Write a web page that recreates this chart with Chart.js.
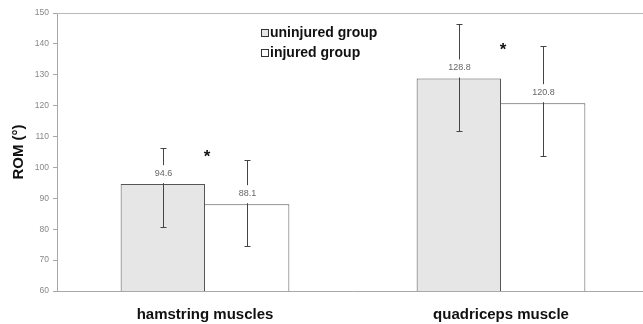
<!DOCTYPE html>
<html>
<head>
<meta charset="utf-8">
<script src="https://cdn.jsdelivr.net/npm/chart.js"></script>
<style>
  html, body { margin: 0; padding: 0; background: #fff; overflow: hidden; }
</style>
</head>
<body>
<canvas id="chart" width="649" height="324"></canvas>
<script>
// data
var categories = ['hamstring muscles', 'quadriceps muscle'];
var seriesNames = ['uninjured group', 'injured group'];
var uninjured = [94.6, 128.8];
var injured = [88.1, 120.8];
var uninjuredLow = [80.7, 111.8];
var uninjuredHigh = [106.3, 146.3];
var injuredLow = [74.5, 103.7];
var injuredHigh = [102.4, 139.3];
var starLevel = [104.7, 139.3];   // where the significance star sits
var yMin = 60, yMax = 150, yStep = 10;

var FONT = "'Liberation Sans', Arial, sans-serif";

// error bars, value labels, stars, legend and top frame line
const extras = {
  id: 'extras',
  afterDatasetsDraw(chart) {
    const ctx = chart.ctx;
    const ys = chart.scales.y;
    const area = chart.chartArea;
    ctx.save();

    // top frame line
    ctx.strokeStyle = '#b8b8b8';
    ctx.lineWidth = 1;
    ctx.beginPath();
    ctx.moveTo(area.left, Math.round(area.top) + 0.5);
    ctx.lineTo(area.right, Math.round(area.top) + 0.5);
    ctx.stroke();

    chart.data.datasets.forEach((ds, di) => {
      const meta = chart.getDatasetMeta(di);
      meta.data.forEach((bar, i) => {
        const x = Math.round(bar.x) + 0.5;
        const yHi = Math.round(ys.getPixelForValue(ds.high[i])) + 0.5;
        const yLo = Math.round(ys.getPixelForValue(ds.low[i])) + 0.5;
        ctx.strokeStyle = '#444';
        ctx.lineWidth = 1;
        ctx.beginPath();
        ctx.moveTo(x, yHi); ctx.lineTo(x, yLo);
        ctx.moveTo(x - 3, yHi); ctx.lineTo(x + 3, yHi);
        ctx.moveTo(x - 3, yLo); ctx.lineTo(x + 3, yLo);
        ctx.stroke();

        // value label on white patch, breaking the line
        const txt = ds.data[i].toFixed(1);
        ctx.font = '9px ' + FONT;
        const w = ctx.measureText(txt).width + 6;
        ctx.fillStyle = '#fff';
        ctx.fillRect(x - w / 2, bar.y - 19, w, 18);
        ctx.fillStyle = '#666';
        ctx.textAlign = 'center';
        ctx.textBaseline = 'middle';
        ctx.fillText(txt, x, bar.y - 11);
      });
    });

    // stars between the two bars of each group
    const m0 = chart.getDatasetMeta(0), m1 = chart.getDatasetMeta(1);
    ctx.fillStyle = '#111';
    ctx.font = 'bold 17px ' + FONT;
    ctx.textAlign = 'center';
    ctx.textBaseline = 'middle';
    categories.forEach((c, i) => {
      const x = (m0.data[i].x + m1.data[i].x) / 2 + 2;
      const y = ys.getPixelForValue(starLevel[i]) + 4;
      ctx.fillText('*', x, y);
    });

    // legend
    const lx = 261, ly = [33, 53];
    chart.data.datasets.forEach((ds, di) => {
      ctx.fillStyle = ds.backgroundColor;
      ctx.fillRect(lx + 0.5, ly[di] - 3.5, 7, 7);
      ctx.strokeStyle = '#333';
      ctx.strokeRect(lx + 0.5, ly[di] - 3.5, 7, 7);
      ctx.fillStyle = '#111';
      ctx.font = 'bold 14px ' + FONT;
      ctx.textAlign = 'left';
      ctx.textBaseline = 'middle';
      ctx.fillText(ds.label, lx + 9, ly[di] + 0.5);
    });
    ctx.restore();
  }
};

new Chart(document.getElementById('chart'), {
  type: 'bar',
  data: {
    labels: categories,
    datasets: [{
      label: seriesNames[0],
      data: uninjured,
      low: uninjuredLow,
      high: uninjuredHigh,
      backgroundColor: '#e6e6e6',
      borderColor: '#555',
      borderWidth: {left: 1, top: 1, right: 1, bottom: 0}
    }, {
      label: seriesNames[1],
      data: injured,
      low: injuredLow,
      high: injuredHigh,
      backgroundColor: '#ffffff',
      borderColor: '#555',
      borderWidth: {left: 0, top: 1, right: 1, bottom: 0}
    }]
  },
  options: {
    responsive: false,
    animation: false,
    devicePixelRatio: 1,
    layout: { padding: { top: 13, left: 0, right: 0, bottom: 0 } },
    categoryPercentage: 0.57,
    barPercentage: 1,
    plugins: {
      legend: { display: false },
      tooltip: { enabled: false }
    },
    scales: {
      x: {
        grid: { display: false, drawTicks: false },
        border: { color: '#a8a8a8' },
        ticks: { color: '#111', font: { family: FONT, size: 15, weight: 'bold' }, padding: 15 },
        afterFit(scale) { scale.height = 33; }
      },
      y: {
        min: yMin,
        max: yMax,
        grid: { drawOnChartArea: false, drawTicks: true, tickLength: 4, tickColor: '#a8a8a8' },
        border: { color: '#a8a8a8' },
        ticks: { stepSize: yStep, color: '#888', font: { family: FONT, size: 8.5 }, padding: 4 },
        title: {
          display: true,
          text: 'ROM (°)',
          color: '#111',
          font: { family: FONT, size: 15, weight: 'bold' },
          padding: { top: 10, bottom: 0 }
        },
        afterFit(scale) { scale.width = 57; }
      }
    }
  },
  plugins: [extras]
});
</script>
</body>
</html>
